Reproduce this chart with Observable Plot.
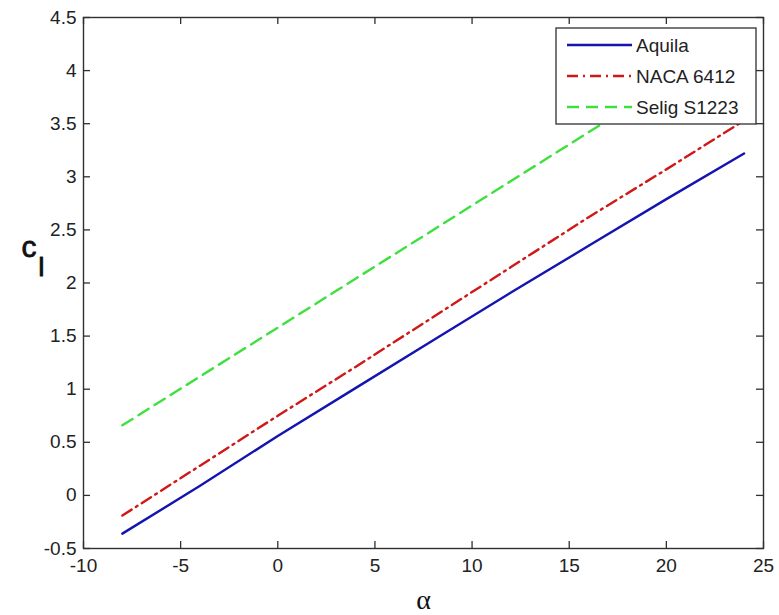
<!DOCTYPE html>
<html>
<head>
<meta charset="utf-8">
<script src="https://cdn.jsdelivr.net/npm/d3@7"></script>
<script src="https://cdn.jsdelivr.net/npm/@observablehq/plot@0.6"></script>
<style>
  html, body { margin: 0; padding: 0; background: #fff; }
  #chart { width: 779px; height: 615px; }
</style>
</head>
<body>
<div id="chart"></div>
<script>
// Angle of attack (degrees)
const alphas = [-8, -4, 0, 4, 8, 12, 16, 20, 24];
// Lift coefficient per airfoil
const aquila     = [-0.36, 0.09, 0.56, 1.01, 1.46, 1.91, 2.35, 2.79, 3.22];
const naca6412   = [-0.19, 0.28, 0.75, 1.21, 1.68, 2.15, 2.62, 3.07, 3.53];
const seligS1223 = [0.66, 1.12, 1.58, 2.04, 2.50, 2.96, 3.42, 3.88, 4.33];
const seriesNames = ["Aquila", "NACA 6412", "Selig S1223"];
const xTicks = [-10, -5, 0, 5, 10, 15, 20, 25];
const yTicks = [-0.5, 0, 0.5, 1, 1.5, 2, 2.5, 3, 3.5, 4, 4.5];

const colors = ["#1414b0", "#d01818", "#3ee03e"];
const dashes = [null, "11,5,2,5", "12,7"];
const seriesValues = [aquila, naca6412, seligS1223];

const W = 779, H = 615;
const mL = 83, mR = 16, mT = 17, mB = 67;
const fw = W - mL - mR, fh = H - mT - mB;
const TL = 7;

const lineMarks = seriesValues.map((vals, i) =>
  Plot.line(alphas.map((a, j) => ({alpha: a, cl: vals[j]})), {
    x: "alpha", y: "cl", stroke: colors[i], strokeWidth: 2.4,
    strokeDasharray: dashes[i] || undefined
  })
);

const fontFam = "'Liberation Sans', Arial, sans-serif";

const chart = Plot.plot({
  width: W, height: H,
  marginLeft: mL, marginRight: mR, marginTop: mT, marginBottom: mB,
  style: {fontFamily: fontFam, fontSize: "19px", background: "#fff", color: "#222"},
  x: {domain: [-10, 25]},
  y: {domain: [-0.5, 4.5]},
  marks: [
    ...lineMarks,
    Plot.frame({stroke: "#303030", strokeWidth: 1.4}),
    // inward ticks on all four sides
    Plot.ruleX(xTicks, {stroke: "#303030", strokeWidth: 1.3, insetTop: fh - TL}),
    Plot.ruleX(xTicks, {stroke: "#303030", strokeWidth: 1.3, insetBottom: fh - TL}),
    Plot.ruleY(yTicks, {stroke: "#303030", strokeWidth: 1.3, insetRight: fw - TL}),
    Plot.ruleY(yTicks, {stroke: "#303030", strokeWidth: 1.3, insetLeft: fw - TL}),
    Plot.axisX(xTicks, {tickSize: 0, tickPadding: 10, label: null, tickFormat: d => String(d), fill: "#222"}),
    Plot.axisY(yTicks, {tickSize: 0, tickPadding: 7, label: null, tickFormat: d => String(d), fill: "#222"}),
    Plot.text(["α"], {frameAnchor: "bottom", dy: 60, fontSize: 28, fontFamily: "'Liberation Serif', 'DejaVu Serif', serif", fill: "#111"}),
    Plot.text(["c"], {frameAnchor: "left", dx: -62, dy: -36, fontSize: 30, fontFamily: fontFam, fill: "#111", stroke: "#111", strokeWidth: 0.8}),
    Plot.text(["l"], {frameAnchor: "left", dx: -45, dy: -15, fontSize: 26, fontFamily: fontFam, fill: "#111", stroke: "#111", strokeWidth: 1})
  ]
});

// Legend (MATLAB style box at top-right)
const svg = d3.select(chart);
const lx = 556, ly = 28, lw = 200, lh = 96;
const g = svg.append("g");
g.append("rect").attr("x", lx).attr("y", ly).attr("width", lw).attr("height", lh)
  .attr("fill", "#fff").attr("stroke", "#303030").attr("stroke-width", 1.3);
seriesNames.forEach((name, i) => {
  const yy = ly + 17 + i * 31;
  g.append("line").attr("x1", lx + 11).attr("x2", lx + 76).attr("y1", yy).attr("y2", yy)
    .attr("stroke", colors[i]).attr("stroke-width", 2.4)
    .attr("stroke-dasharray", dashes[i] || null);
  g.append("text").attr("x", lx + 80).attr("y", yy).attr("dy", "0.35em")
    .attr("text-anchor", "start")
    .attr("font-family", fontFam).attr("font-size", 19).attr("fill", "#222").text(name);
});

document.getElementById("chart").appendChild(chart);
</script>
</body>
</html>
